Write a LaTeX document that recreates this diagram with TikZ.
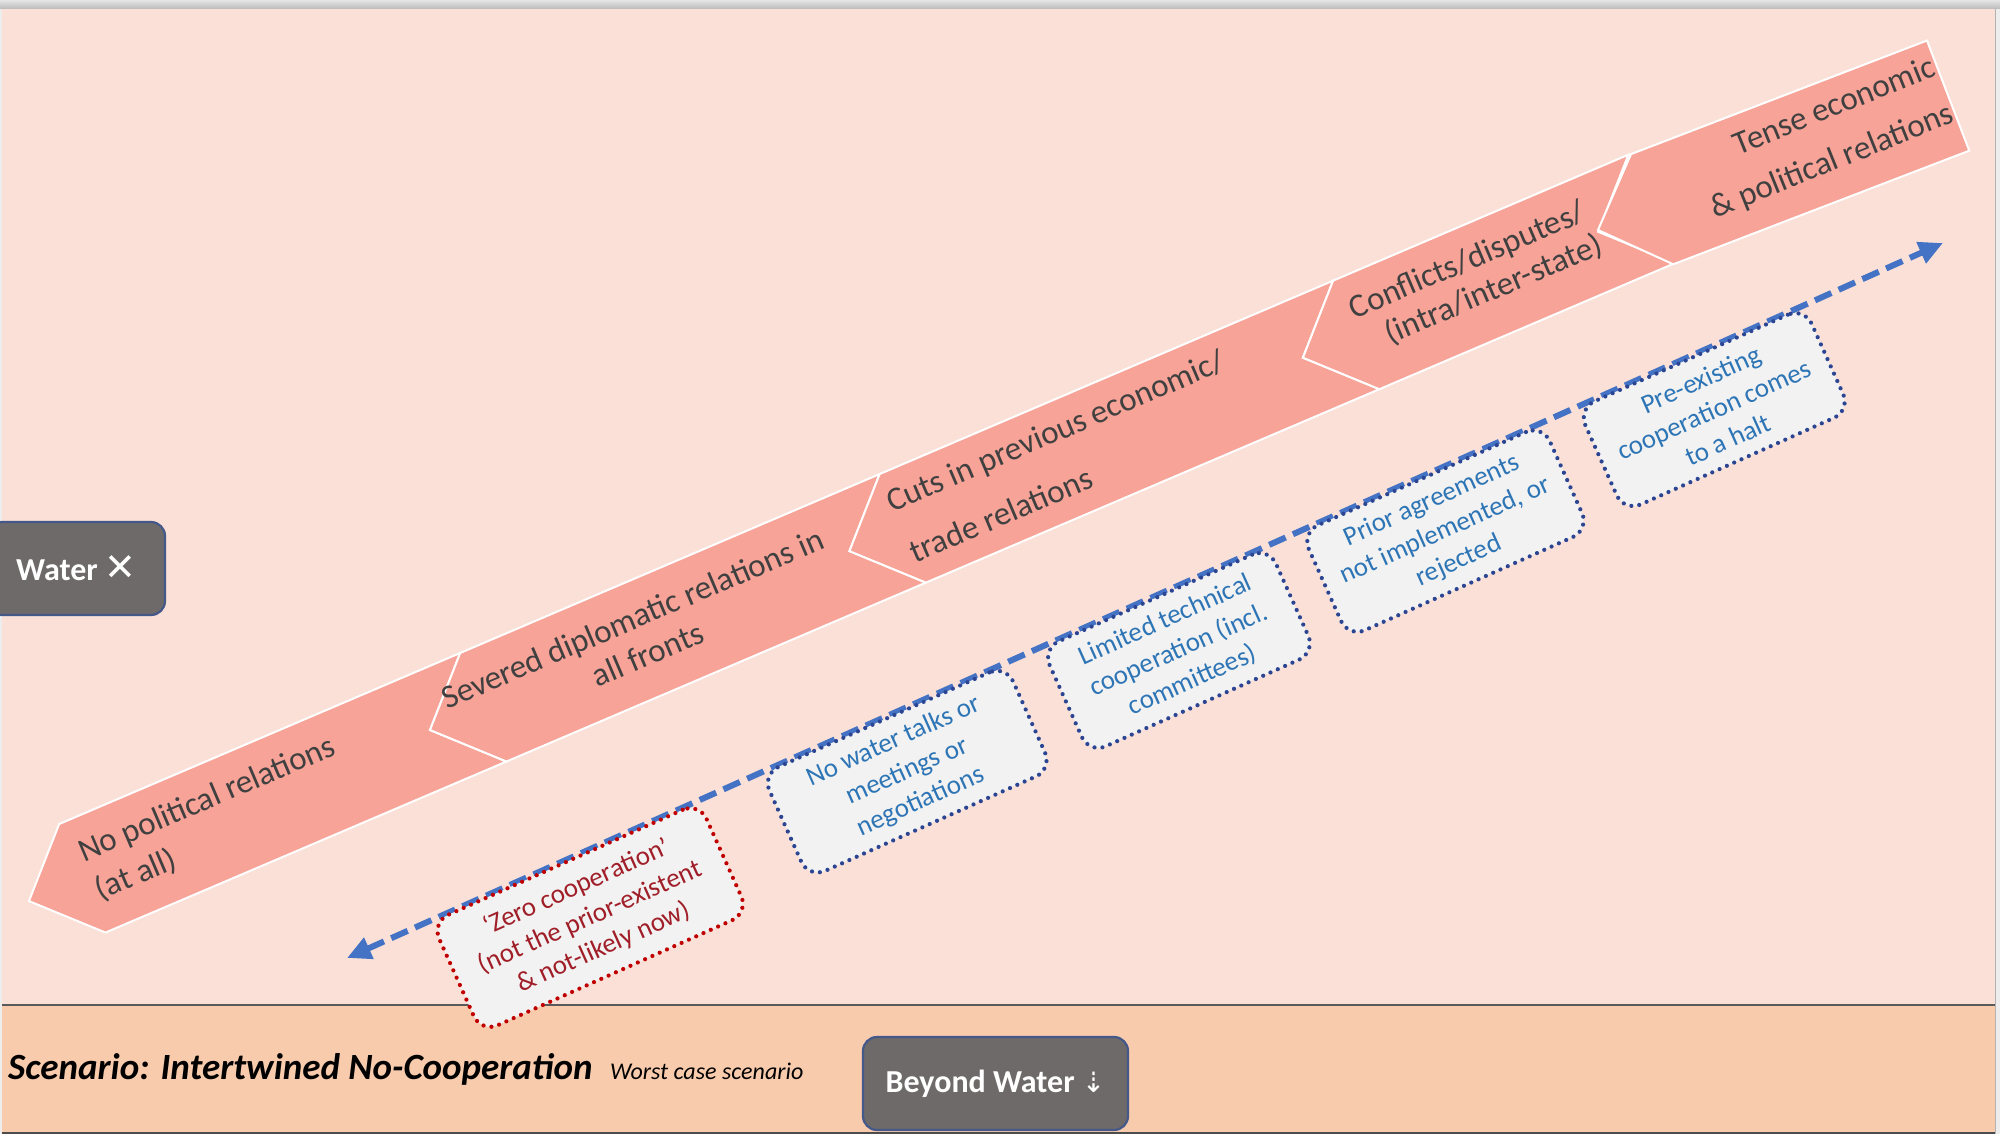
\documentclass[tikz,border=0pt]{standalone}
\usepackage{fontspec}
\setmainfont{Carlito}
\newfontfamily\djv{DejaVu Sans}
\usetikzlibrary{arrows.meta,calc}
\definecolor{bgpink}{HTML}{FAE0D6}
\definecolor{bandpeach}{HTML}{F8CBAD}
\definecolor{chevfill}{HTML}{F7A397}
\definecolor{chevtext}{HTML}{404040}
\definecolor{boxfill}{HTML}{F2F2F2}
\definecolor{boxtext}{HTML}{2E75B6}
\definecolor{boxdot}{HTML}{2B4593}
\definecolor{redtext}{HTML}{A01E28}
\definecolor{reddot}{HTML}{C00000}
\definecolor{arrowblue}{HTML}{4472C4}
\definecolor{darkbox}{HTML}{6F6A6A}
\definecolor{darkboxline}{HTML}{44598A}
\definecolor{framegray}{HTML}{EDEDED}
\begin{document}
\begin{tikzpicture}[x=1pt,y=-1pt,
  chev/.style={fill=chevfill, draw=white, line width=2pt, line join=miter},
  chevlabel/.style={inner sep=0pt, outer sep=0pt, text=chevtext, font=\fontsize{33pt}{40pt}\selectfont, transform shape},
  coopbox/.style={rectangle, rounded corners=18pt, fill=boxfill, draw=boxdot, line width=4.2pt, dash pattern=on 0pt off 8pt, line cap=round, inner sep=0pt, outer sep=0pt, align=center, text=boxtext, font=\fontsize{27pt}{33pt}\selectfont, rotate=24.13, anchor=north west},
  redbox/.style={coopbox, draw=reddot, text=redtext},
  greybox/.style={rectangle, rounded corners=14pt, fill=darkbox, draw=darkboxline, line width=2.2pt, text=white, inner sep=0pt, outer sep=0pt, font=\bfseries\fontsize{32pt}{36pt}\selectfont},
  flow/.style={draw=arrowblue, line width=6pt, line cap=butt, dash pattern=on 18pt off 8pt, {Triangle[length=24pt,width=22pt]}-{Triangle[length=24pt,width=22pt]}},
]
\useasboundingbox (0,0) rectangle (2000,1134);
\clip (0,0) rectangle (2000,1134);
% frame and backgrounds
\fill[framegray] (0,0) rectangle (2000,1134);
\fill[bgpink] (2,9) rectangle (1995,1005);
\fill[bandpeach] (2,1005) rectangle (1995,1133);
\shade[top color=gray!20, bottom color=gray!55] (0,0) rectangle (2000,9);
\draw[gray!70!black, line width=2pt] (2,1005) -- (1995,1005);
\draw[gray!60!black, line width=2pt] (2,1133) -- (1995,1133);
\draw[gray!60, line width=1.5pt] (1995.5,9) -- (1995.5,1134);

% chevron band
\begin{scope}[shift={(430,730)}, rotate=23.1]
  \filldraw[chev] (-436,0) -- (-378,-59) -- (58,-59) -- (0,0) -- (58,59) -- (-378,59) -- cycle;
  \filldraw[chev] (0,0) -- (58,-59) -- (514,-59) -- (456,0) -- (514,59) -- (58,59) -- cycle;
  \filldraw[chev] (456,0) -- (514,-59) -- (1007,-59) -- (949,0) -- (1007,59) -- (514,59) -- cycle;
  \filldraw[chev] (949,0) -- (1007,-59) -- (1328,-59) -- (1270,0) -- (1328,59) -- (1007,59) -- cycle;
  \node[chevlabel, anchor=base west] (c1a) at (-370,-14) {No political relations};
  \node[chevlabel, anchor=base west] (c1b) at (-370,28) {(at all)};
  \node[chevlabel, anchor=base] (c2a) at (230,-12) {Severed diplomatic relations in};
  \node[chevlabel, anchor=base] (c2b) at (230,27) {all fronts};
  \node[chevlabel, anchor=base west] (c3a) at (511,-19) {Cuts in previous economic/};
  \node[chevlabel, anchor=base west] (c3b) at (512,37) {trade relations};
  \node[chevlabel, anchor=base east] (c4a) at (1265,-15) {Conflicts/disputes/};
  \node[chevlabel, anchor=base east] (c4b) at (1268,22) {(intra/inter-state)};
\end{scope}
\begin{scope}[shift={(1598,230)}, rotate=21]
  \filldraw[chev] (0,0) -- (58,-59) -- (375,-59) -- (375,59) -- (58,59) -- cycle;
  \node[chevlabel, anchor=base east, rotate=1] (c5a) at (372,-23) {Tense economic};
  \node[chevlabel, anchor=base east, rotate=1] (c5b) at (373,27) {\& political relations};
\end{scope}

% cooperation axis
\coordinate (aL) at (347,958);
\coordinate (aR) at (1943,243);
\draw[flow] (aL) -- (aR);

% cooperation boxes
\node[redbox, minimum width=293pt, minimum height=121pt] (b1) at ($(aL)!92pt!(aR)+(0.8,1.8)$) {‘Zero cooperation’\\(not the prior-existent\\\& not-likely now)};
\node[coopbox, minimum width=267pt, minimum height=114pt] (b2) at ($(aL)!454pt!(aR)+(0.8,1.8)$) {No water talks or\\meetings or\\negotiations};
\node[coopbox, minimum width=248pt, minimum height=115pt] (b3) at ($(aL)!761pt!(aR)+(0.8,1.8)$) {Limited technical\\cooperation (incl.\\committees)};
\node[coopbox, minimum width=264pt, minimum height=115pt] (b4) at ($(aL)!1045pt!(aR)+(0.8,1.8)$) {Prior agreements\\not implemented, or\\rejected};
\node[coopbox, minimum width=248pt, minimum height=113pt] (b5) at ($(aL)!1348pt!(aR)+(0.8,1.8)$) {Pre-existing\\cooperation comes\\to a halt};

% grey buttons
\node[greybox, minimum width=177pt, minimum height=93pt] (water) at (76.5,568.5) {Water {\djv\mdseries\fontsize{38pt}{40pt}\selectfont ✕}};
\node[greybox, minimum width=265pt, minimum height=93pt] (beyond) at (995.5,1083.5) {Beyond Water {\djv\mdseries\fontsize{28pt}{30pt}\selectfont ⇣}};

% scenario caption
\node[anchor=base west, inner sep=0pt, font=\bfseries\itshape\fontsize{37pt}{40pt}\selectfont] (scen) at (8,1079) {Scenario: Intertwined No-Cooperation};
\node[anchor=base west, inner sep=0pt, font=\itshape\fontsize{24pt}{28pt}\selectfont] (worst) at (610,1079) {Worst case scenario};
\end{tikzpicture}
\end{document}
